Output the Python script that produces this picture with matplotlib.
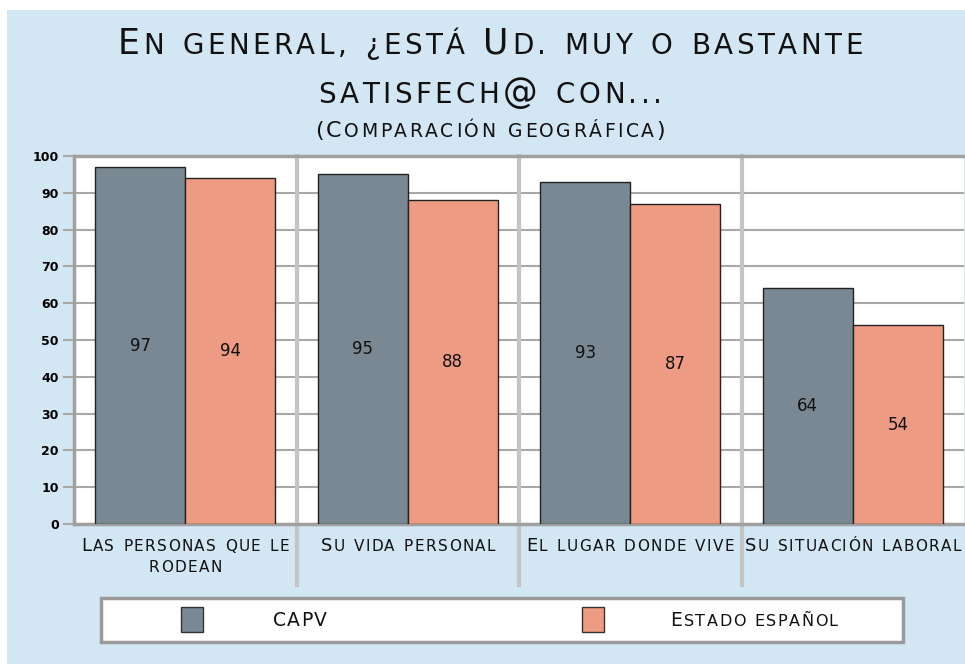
import matplotlib.pyplot as plt
import numpy as np
from matplotlib.offsetbox import TextArea, HPacker, AnnotationBbox, DrawingArea
from matplotlib.patches import Rectangle

# datos
categories = [["Las personas que le", "rodean"], ["Su vida personal"],
              ["El lugar donde vive"], ["Su situación laboral"]]
series_names = ["CAPV", "Estado español"]
capv = [97, 95, 93, 64]
estado = [94, 88, 87, 54]
yticks = list(range(0, 101, 10))
title1 = "En general, ¿está Ud. muy o bastante"
title2 = "satisfech@ con..."
subtitle = "(Comparación geográfica)"

W, H = 965, 664
BG = '#d3e6f4'
COLORS = ['#7a8893', '#ee9b84']
FONT = ['DejaVu Sans']


def smallcaps(ax, s, x, y, big, small, track=1.0, color='#111111', weight='normal'):
    '''versalitas falsas: mayúsculas grandes, minúsculas en mayúscula pequeña'''
    kids = []
    for ch in s:
        if ch == ' ':
            kids.append(DrawingArea(small * 0.30 * 100 / 72, 0))
            continue
        isbig = ch.isupper() or ch in '@()'
        kids.append(TextArea(ch.upper(), textprops=dict(fontsize=big if isbig else small,
                                                        family=FONT, color=color,
                                                        fontweight=weight)))
    box = HPacker(children=kids, align='baseline', pad=0, sep=track)
    ab = AnnotationBbox(box, (x / W, 1 - y / H), xycoords='figure fraction',
                        frameon=False, box_alignment=(0.5, 0.5), pad=0)
    ax.add_artist(ab)


fig = plt.figure(figsize=(W / 100, H / 100), dpi=100, facecolor='white')
fig.add_artist(Rectangle((7 / W, 0), 1, 1 - 10 / H, transform=fig.transFigure,
                         facecolor=BG, edgecolor='none', zorder=-10))

ax = fig.add_axes([74 / W, 1 - 524 / H, 890 / W, 368 / H])
ax.set_facecolor('white')

x = np.arange(len(capv))
w = 0.405
ax.bar(x - w / 2, capv, w, color=COLORS[0], edgecolor='#222222', lw=1, zorder=3)
ax.bar(x + w / 2, estado, w, color=COLORS[1], edgecolor='#222222', lw=1, zorder=3)
for i in range(len(x)):
    ax.text(x[i] - w / 2, capv[i] / 2, str(capv[i]), ha='center', va='center',
            fontsize=12, color='#111111', zorder=4)
    ax.text(x[i] + w / 2, estado[i] / 2, str(estado[i]), ha='center', va='center',
            fontsize=12, color='#111111', zorder=4)

ax.set_xlim(-0.5, len(x) - 0.5)
ax.set_ylim(0, 100)
ax.set_yticks(yticks)
ax.set_xticks([])
ax.yaxis.grid(True, color='#a8a8a8', lw=1.5)
ax.set_axisbelow(True)
ax.tick_params(axis='y', length=8, width=1.5, color='#a8a8a8', labelsize=9, pad=3)
for lab in ax.get_yticklabels():
    lab.set_fontweight('bold')
for s in ['top', 'left', 'bottom']:
    ax.spines[s].set_color('#a0a0a0')
    ax.spines[s].set_linewidth(2.5)
ax.spines['right'].set_visible(False)

# separadores entre grupos
for xs in x[:-1] + 0.5:
    ax.plot([xs, xs], [-16.6, 100], color='#c4c4c4', lw=3, clip_on=False, zorder=2)

# títulos
smallcaps(ax, title1, 490, 44, 25, 20, track=2.5)
smallcaps(ax, title2, 490, 93, 25, 20, track=2.5)
smallcaps(ax, subtitle, 490, 131, 16, 13.5, track=1.8)

# etiquetas de categoría
centers = 74 + (x + 0.5) * 890 / len(x)
for cx, lines in zip(centers, categories):
    for j, line in enumerate(lines):
        smallcaps(ax, line, cx, 546 + 22 * j, 13, 11, track=1.0)

# leyenda
fig.add_artist(Rectangle((101 / W, 1 - 642 / H), 802 / W, 44 / H, transform=fig.transFigure,
                         facecolor='white', edgecolor='#9a9a9a', lw=2.5, zorder=-5))
for px, tx, name, col in zip([181, 582], [300, 754], series_names, COLORS):
    fig.add_artist(Rectangle((px / W, 1 - 632 / H), 22 / W, 25 / H, transform=fig.transFigure,
                             facecolor=col, edgecolor='#333333', lw=1, zorder=-4))
    smallcaps(ax, name, tx, 620, 13.5, 11.5, track=1.0)

fig.savefig('out.png', dpi=100, facecolor=fig.get_facecolor())
